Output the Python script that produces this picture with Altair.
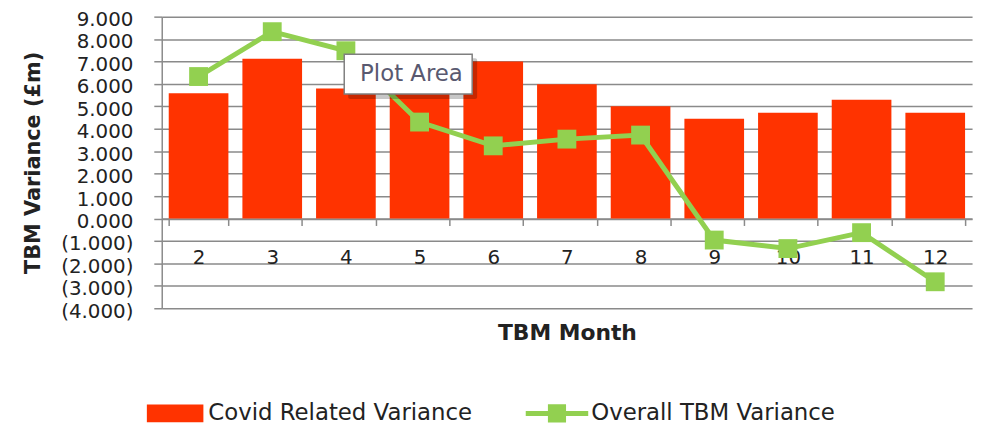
import altair as alt
import pandas as pd

# ---- data ----
months = ["2", "3", "4", "5", "6", "7", "8", "9", "10", "11", "12"]
covid_variance = [5.58, 7.12, 5.80, 5.75, 7.00, 5.99, 5.00, 4.45, 4.72, 5.30, 4.72]
overall_variance = [6.33, 8.33, 7.48, 4.30, 3.24, 3.54, 3.72, -0.96, -1.34, -0.63, -2.82]
y_ticks = [-4, -3, -2, -1, 0, 1, 2, 3, 4, 5, 6, 7, 8, 9]
series_names = ["Covid Related Variance", "Overall TBM Variance"]
tooltip_text = ["Plot Area"]

RED = "#FF3300"
GREEN = "#92D050"
GRID = "#8a8a8a"
TXT = "#222222"
FONT = "DejaVu Sans"

W, H = 817, 294
Y_MIN, Y_MAX = y_ticks[0], y_ticks[-1]
zero_offset = -H * (0 - Y_MIN) / (Y_MAX - Y_MIN)

df = pd.DataFrame({"month": months, "covid": covid_variance, "overall": overall_variance})
df["s1"] = series_names[0]
df["s2"] = series_names[1]

rect_path = "M-1,-0.316H1V0.316H-1Z"
line_path = "M-1,-0.08H-0.29V-0.29H0.29V-0.08H1V0.08H0.29V0.29H-0.29V0.08H-1Z"

x_axis = alt.Axis(
    offset=zero_offset,
    labelAngle=0,
    labelFont=FONT,
    labelFontSize=20,
    labelColor=TXT,
    labelPadding=22,
    tickSize=7,
    tickBand="extent",
    tickColor=GRID,
    tickWidth=1.5,
    domainColor=GRID,
    domainWidth=1.5,
    grid=False,
    title="TBM Month",
    titleFont=FONT,
    titleFontSize=22,
    titleFontWeight="bold",
    titleColor=TXT,
    titlePadding=56,
)
x_scale = alt.Scale(paddingInner=0.19, paddingOuter=0.095)

y_scale = alt.Scale(domain=[Y_MIN, Y_MAX], nice=False, zero=False)

label_expr = (
    "datum.value < 0 ? '(' + format(-datum.value, '.3f') + ')' "
    ": format(datum.value, '.3f') + '\u2004'"
)
y_axis = alt.Axis(
    values=y_ticks,
    labelExpr=label_expr,
    labelFont=FONT,
    labelFontSize=20,
    labelColor=TXT,
    labelPadding=21,
    labelOffset=3,
    tickSize=8,
    tickColor=GRID,
    tickWidth=1.5,
    domainColor=GRID,
    domainWidth=1.5,
    grid=True,
    gridColor=GRID,
    gridWidth=1.5,
    title="TBM Variance (£m)",
    titleFont=FONT,
    titleFontSize=21,
    titleFontWeight="bold",
    titleColor=TXT,
    titlePadding=17,
)

bars = alt.Chart(df).mark_bar(opacity=1).encode(
    x=alt.X("month:N", sort=months, scale=x_scale, axis=x_axis, title="TBM Month"),
    y=alt.Y("covid:Q", scale=y_scale, axis=y_axis, title="TBM Variance (£m)"),
    y2=alt.datum(0),
    color=alt.Color(
        "s1:N",
        scale=alt.Scale(domain=[series_names[0]], range=[RED]),
        legend=alt.Legend(
            orient="none",
            legendX=-15,
            legendY=371.5,
            title=None,
            padding=0,
            symbolType=rect_path,
            symbolSize=3249,
            symbolStrokeWidth=0,
            symbolOpacity=1,
            labelFont=FONT,
            labelFontSize=23,
            labelColor=TXT,
            labelOffset=5,
            labelLimit=500,
        ),
    ),
)

line = alt.Chart(df).mark_line(strokeWidth=5).encode(
    x=alt.X("month:N", sort=months, scale=x_scale, axis=x_axis, title="TBM Month"),
    y=alt.Y("overall:Q", scale=y_scale, axis=y_axis, title="TBM Variance (£m)"),
    color=alt.Color(
        "s2:N",
        scale=alt.Scale(domain=[series_names[1]], range=[GREEN]),
        legend=alt.Legend(
            orient="none",
            legendX=367,
            legendY=368.5,
            title=None,
            padding=0,
            symbolType=line_path,
            symbolSize=3969,
            symbolFillColor=GREEN,
            symbolStrokeColor=GREEN,
            symbolStrokeWidth=0,
            symbolOpacity=1,
            labelFont=FONT,
            labelFontSize=23,
            labelColor=TXT,
            labelOffset=3,
            labelLimit=500,
        ),
    ),
)

points = alt.Chart(df).mark_point(shape="square", filled=True, size=361, opacity=1, color=GREEN).encode(
    x=alt.X("month:N", sort=months, scale=x_scale, axis=x_axis, title="TBM Month"),
    y=alt.Y("overall:Q", scale=y_scale, axis=y_axis, title="TBM Variance (£m)"),
)

tip_df = pd.DataFrame({"label": tooltip_text})
tip_shadow = alt.Chart(tip_df).mark_rect(color="#000000", opacity=0.22, cornerRadius=2).encode(
    x=alt.value(188), x2=alt.value(318), y=alt.value(42), y2=alt.value(83)
)
tip_box = alt.Chart(tip_df).mark_rect(fill="#ffffff", stroke="#7f7f7f", strokeWidth=1.5).encode(
    x=alt.value(184), x2=alt.value(313), y=alt.value(38), y2=alt.value(78)
)
tip_text = alt.Chart(tip_df).mark_text(
    font=FONT, fontSize=23, color="#595970", align="left", baseline="middle"
).encode(x=alt.value(200), y=alt.value(58), text="label:N")

chart = (
    alt.layer(bars, line, points, tip_shadow, tip_box, tip_text)
    .resolve_scale(color="independent")
    .properties(
        width=W,
        height=H,
        autosize=alt.AutoSizeParams(type="none"),
        padding={"left": 155, "top": 7, "right": 8, "bottom": 116},
        background="#ffffff",
    )
    .configure_view(stroke=None)
)

chart.save("out.html", embed_options={"renderer": "svg", "actions": False})
